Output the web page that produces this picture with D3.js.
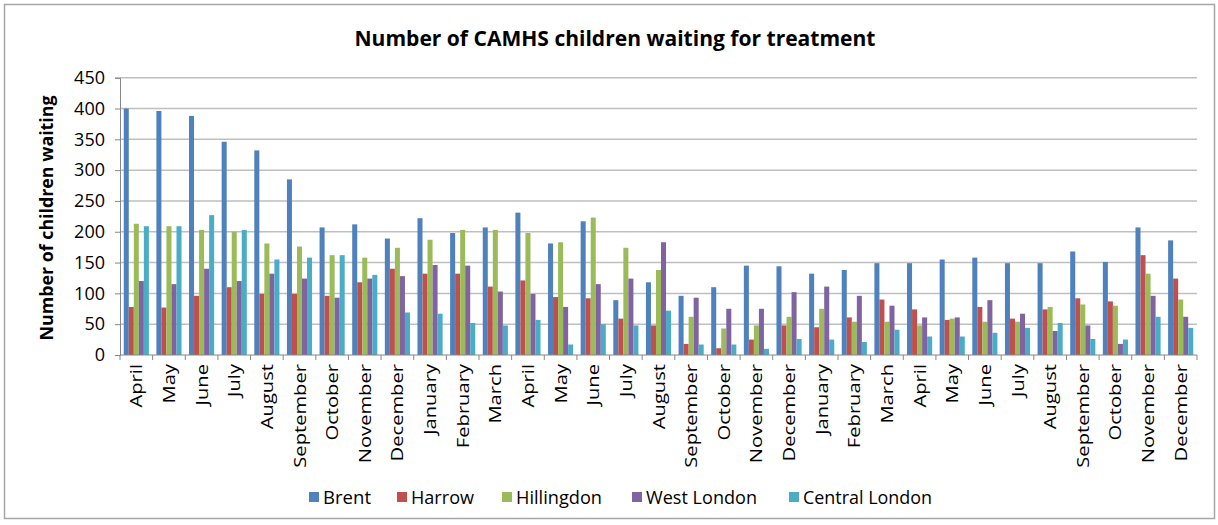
<!DOCTYPE html>
<meta charset="utf-8">
<style>
  body { margin: 0; background: #fff; }
  text { font-family: "Open Sans", sans-serif; fill: #000; }
</style>
<script src="https://d3js.org/d3.v7.min.js"></script>
<svg id="chart" width="1218" height="525"></svg>
<script>
// months from April 2013 to December 2015
const months = ["April","May","June","July","August","September","October","November","December",
  "January","February","March","April","May","June","July","August","September","October","November","December",
  "January","February","March","April","May","June","July","August","September","October","November","December"];

const brent      = [400,396,388,346,332,285,207,212,189,222,198,207,231,181,217,89,118,96,110,145,144,132,138,149,149,155,158,149,149,168,151,207,186];
const harrow     = [78,77,96,110,99,99,96,118,140,132,132,111,121,94,92,59,48,18,11,25,48,45,61,90,74,57,78,59,74,92,87,162,124];
const hillingdon = [213,209,203,200,181,176,162,158,174,187,203,203,198,183,223,174,138,62,43,48,62,75,54,54,48,59,54,54,78,82,80,132,90];
const westLondon = [120,115,140,120,132,124,93,124,128,146,145,103,99,78,115,124,183,93,75,75,102,111,96,80,61,61,89,67,39,48,18,96,62];
const central    = [209,209,227,203,155,158,162,130,69,67,52,48,57,17,50,48,72,17,17,10,26,25,21,41,30,30,36,44,52,26,25,62,44];

const seriesNames = ["Brent", "Harrow", "Hillingdon", "West London", "Central London"];
const seriesValues = [brent, harrow, hillingdon, westLondon, central];
const yTicks = [0, 50, 100, 150, 200, 250, 300, 350, 400, 450];

const svg = d3.select("#chart");

// outer chart border
svg.append("rect")
  .attr("x", 4.5).attr("y", 4.5)
  .attr("width", 1210).attr("height", 514)
  .attr("fill", "none").attr("stroke", "#a6a6a6").attr("stroke-width", 1.5);

const plotLeft = 120, plotRight = 1197, plotTop = 77.7, plotBottom = 355;

const x = d3.scaleBand()
  .domain(d3.range(months.length))
  .range([plotLeft, plotRight])
  .paddingInner(0.23)
  .paddingOuter(0.115);

const xSub = d3.scaleBand()
  .domain(seriesNames)
  .range([0, x.bandwidth()]);

const y = d3.scaleLinear().domain([0, 450]).range([plotBottom, plotTop]);

const color = d3.scaleOrdinal()
  .domain(seriesNames)
  .range(["#4f81bd", "#c0504d", "#9bbb59", "#8064a2", "#4bacc6"]);

// gridlines
svg.append("g")
  .selectAll("line")
  .data(yTicks.filter(d => d > 0))
  .join("line")
  .attr("x1", plotLeft).attr("x2", plotRight)
  .attr("y1", d => y(d)).attr("y2", d => y(d))
  .attr("stroke", "#bfbfbf").attr("stroke-width", 1.5);

// bars
const table = months.map((m, i) => ({ i: i, values: seriesNames.map((s, k) => ({ key: s, value: seriesValues[k][i] })) }));

svg.append("g")
  .selectAll("g")
  .data(table)
  .join("g")
  .attr("transform", d => `translate(${x(d.i)},0)`)
  .selectAll("rect")
  .data(d => d.values)
  .join("rect")
  .attr("x", d => xSub(d.key))
  .attr("y", d => y(d.value))
  .attr("width", xSub.bandwidth())
  .attr("height", d => y(0) - y(d.value))
  .attr("fill", d => color(d.key));

// y axis
const yAxis = svg.append("g")
  .attr("transform", `translate(${plotLeft},0)`)
  .call(d3.axisLeft(y).tickValues(yTicks).tickSize(5).tickPadding(10));
yAxis.select(".domain").attr("stroke", "#868686");
yAxis.selectAll(".tick line").attr("stroke", "#868686");
yAxis.selectAll(".tick text")
  .style("font-size", "18px")
  .attr("fill", "#000");

// x axis (ticks between categories)
const step = x.step();
const xAxisG = svg.append("g");
xAxisG.append("line")
  .attr("x1", plotLeft).attr("x2", plotRight)
  .attr("y1", plotBottom).attr("y2", plotBottom)
  .attr("stroke", "#868686");
xAxisG.selectAll("line.tk")
  .data(d3.range(months.length + 1))
  .join("line")
  .attr("class", "tk")
  .attr("x1", d => plotLeft + d * step).attr("x2", d => plotLeft + d * step)
  .attr("y1", plotBottom).attr("y2", plotBottom + 5)
  .attr("stroke", "#868686");

xAxisG.selectAll("text")
  .data(months)
  .join("text")
  .attr("transform", (d, i) => `translate(${x(i) + x.bandwidth() / 2 + 6},364) rotate(-90) scale(1.26,1)`)
  .attr("text-anchor", "end")
  .style("font-size", "16px")
  .text(d => d);

// y axis title
svg.append("text")
  .attr("transform", "translate(53,218) rotate(-90)")
  .attr("text-anchor", "middle")
  .attr("textLength", 245)
  .attr("lengthAdjust", "spacingAndGlyphs")
  .style("font-size", "17px")
  .style("font-weight", "bold")
  .text("Number of children waiting");

// title
svg.append("text")
  .attr("x", 615).attr("y", 46)
  .attr("text-anchor", "middle")
  .attr("textLength", 521)
  .attr("lengthAdjust", "spacingAndGlyphs")
  .style("font-size", "22px")
  .style("font-weight", "bold")
  .text("Number of CAMHS children waiting for treatment");

// legend
const legendX = [309, 397, 502, 632, 789];
const legendW = [48, 63, 86, 111, 129];
const legend = svg.append("g")
  .selectAll("g")
  .data(seriesNames)
  .join("g")
  .attr("transform", (d, i) => `translate(${legendX[i]},497)`);
legend.append("rect")
  .attr("x", 0).attr("y", -5)
  .attr("width", 10).attr("height", 10)
  .attr("fill", d => color(d));
legend.append("text")
  .attr("x", 14).attr("y", 6.5)
  .attr("textLength", (d, i) => legendW[i])
  .attr("lengthAdjust", "spacingAndGlyphs")
  .style("font-size", "18px")
  .text(d => d);
</script>
